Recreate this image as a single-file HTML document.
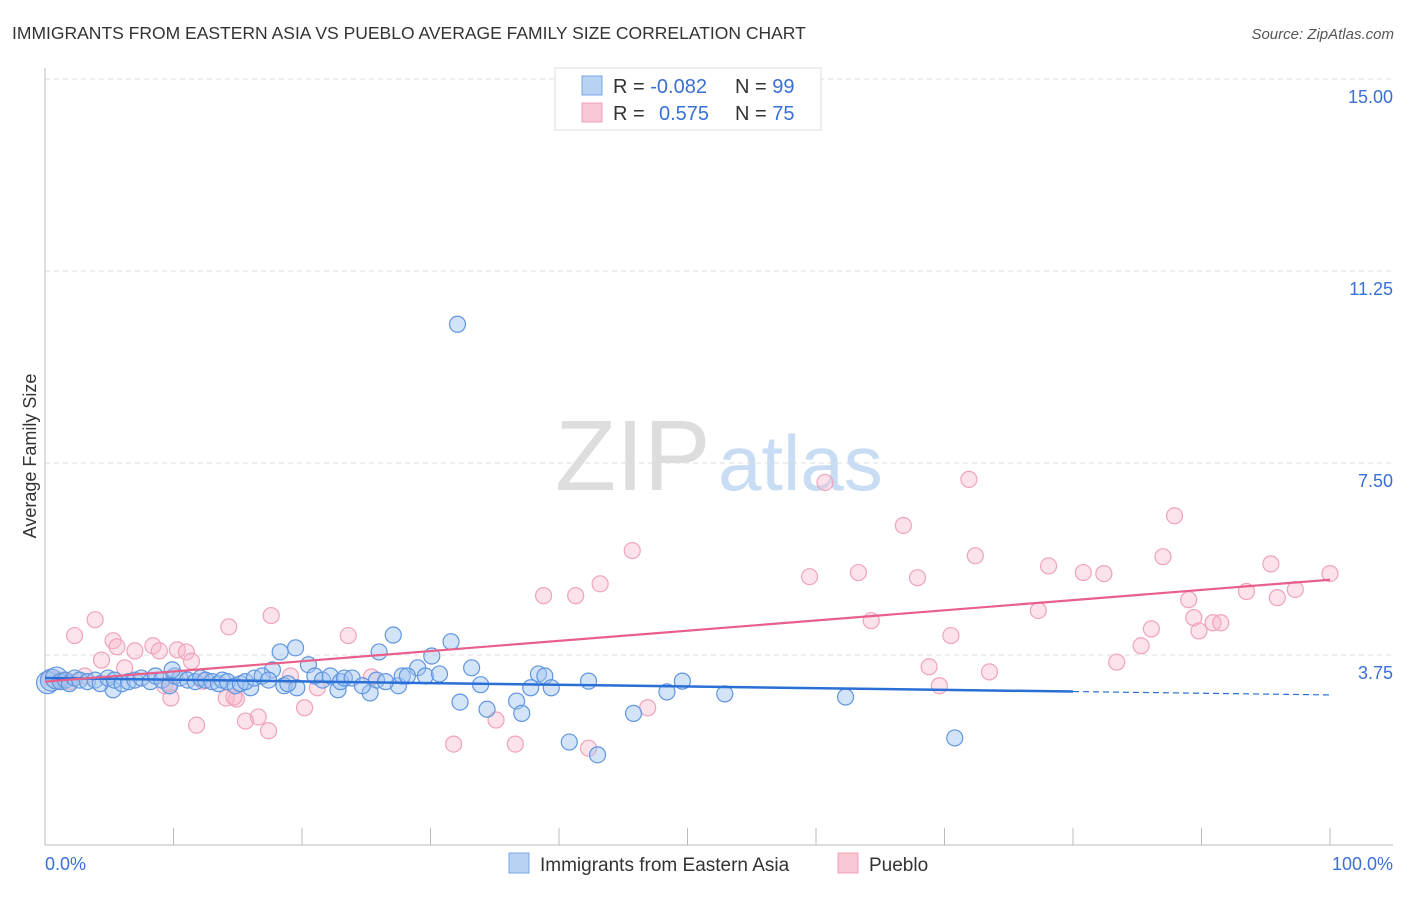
<!DOCTYPE html>
<html><head><meta charset="utf-8"><style>
body{margin:0;background:#fff;font-family:"Liberation Sans",sans-serif}
svg text{font-family:"Liberation Sans",sans-serif}
</style></head><body>
<svg id="c" width="1406" height="892" xmlns="http://www.w3.org/2000/svg">
<text x="12" y="39" font-size="17.5" fill="#333">IMMIGRANTS FROM EASTERN ASIA VS PUEBLO AVERAGE FAMILY SIZE CORRELATION CHART</text>
<text x="1394" y="39" font-size="15" fill="#555" font-style="italic" text-anchor="end">Source: ZipAtlas.com</text>
<text x="555" y="490" font-size="100" fill="#ddd" font-family="Liberation Serif">ZIP</text>
<text x="718" y="490" font-size="78" fill="#c8dcf4">atlas</text>
<text x="36" y="456" font-size="18" fill="#333" text-anchor="middle" transform="rotate(-90 36 456)">Average Family Size</text>
<g id="grid"></g><g id="axes"></g><g id="pts"></g><g id="trend"></g>
<g>
<rect x="555" y="68" width="266" height="62" fill="#fff" stroke="#ddd"/>
<rect x="582" y="76" width="20" height="19" fill="#b8d2f4" stroke="#7aa6e6"/>
<rect x="582" y="103" width="20" height="19" fill="#f9c6d4" stroke="#f0a0b8"/>
<text x="613" y="93" font-size="20" fill="#333">R = <tspan fill="#3a6fd6">-0.082</tspan></text>
<text x="735" y="93" font-size="20" fill="#333">N = <tspan fill="#3a6fd6">99</tspan></text>
<text x="613" y="120" font-size="20" fill="#333">R = </text>
<text x="659" y="120" font-size="20" fill="#3a6fd6">0.575</text>
<text x="735" y="120" font-size="20" fill="#333">N = <tspan fill="#3a6fd6">75</tspan></text>
</g>
<g>
<rect x="509" y="853" width="20" height="20" fill="#b8d2f4" stroke="#7aa6e6"/>
<text x="540" y="871" font-size="19" fill="#333">Immigrants from Eastern Asia</text>
<rect x="838" y="853" width="20" height="20" fill="#f9c6d4" stroke="#f0a0b8"/>
<text x="869" y="871" font-size="19" fill="#333">Pueblo</text>
</g>
<text x="45" y="870" font-size="18" fill="#3a6fd6">0.0%</text>
<text x="1393" y="870" font-size="18" fill="#3a6fd6" text-anchor="end">100.0%</text>
</svg>
<script>
const yTicks=[3.75,7.5,11.25,15];
const yTickLabels=["3.75","7.50","11.25","15.00"];
const blueX=[32.1,19.5,27.1,31.6,26.0,30.1,18.3,20.5,17.7,29.0,33.2,38.4,38.9,42.3,49.6,33.9,37.8,39.4,48.4,52.9,62.3,32.3,36.7,34.4,37.1,45.8,40.8,43.0,70.8,5.3,16.0,22.8,25.3,27.5,18.6,19.6,
0.2,0.5,0.9,1.2,1.6,1.9,2.3,2.7,3.3,3.9,4.3,4.9,5.4,6.0,6.5,7.0,7.5,8.2,8.6,9.1,9.7,10.1,10.5,11.1,11.7,12.1,12.5,13.0,13.5,13.8,14.2,14.8,15.2,15.6,16.3,16.9,17.4,18.9,21.0,21.6,22.2,23.0,23.3,23.9,24.7,25.8,26.5,27.8,28.2,29.6,30.7,9.9];
const blueY=[10.21,3.89,4.14,4.01,3.81,3.73,3.81,3.56,3.46,3.50,3.50,3.38,3.34,3.24,3.24,3.17,3.11,3.11,3.03,2.99,2.93,2.83,2.85,2.69,2.61,2.61,2.05,1.80,2.13,3.07,3.11,3.07,3.01,3.15,3.15,3.11,
3.21,3.26,3.30,3.23,3.26,3.19,3.30,3.26,3.23,3.26,3.19,3.30,3.26,3.19,3.23,3.26,3.30,3.23,3.34,3.26,3.15,3.34,3.30,3.26,3.23,3.30,3.26,3.23,3.19,3.26,3.23,3.15,3.19,3.23,3.30,3.34,3.26,3.19,3.34,3.26,3.34,3.23,3.30,3.30,3.15,3.26,3.23,3.34,3.34,3.34,3.38,3.46];
const pinkX=[60.7,71.9,87.9,66.8,45.7,72.4,87.0,95.4,100,78.1,80.8,82.4,63.3,59.5,67.9,43.2,38.8,41.3,89.0,93.5,95.9,97.3,17.6,77.3,89.4,64.3,90.9,91.5,86.1,89.8,14.3,3.9,2.3,23.6,70.5,5.3,5.6,8.4,7.0,8.9,10.3,11.0,85.3,4.4,11.4,6.2,83.4,68.8,73.5,3.1,9.7,9.3,12.3,25.4,21.2,69.6,9.8,14.9,14.1,14.7,20.2,46.9,16.6,15.6,11.8,17.4,35.1,31.8,36.6,42.3,1.2,1.9,0.4,19.1];
const pinkY=[7.12,7.18,6.47,6.28,5.79,5.69,5.67,5.53,5.34,5.49,5.36,5.34,5.36,5.28,5.26,5.14,4.91,4.91,4.83,4.99,4.87,5.03,4.52,4.62,4.48,4.42,4.38,4.38,4.26,4.22,4.30,4.44,4.13,4.13,4.13,4.03,3.91,3.93,3.83,3.83,3.85,3.81,3.93,3.65,3.63,3.50,3.61,3.52,3.42,3.34,3.19,3.15,3.24,3.32,3.11,3.15,2.91,2.89,2.91,2.93,2.72,2.72,2.54,2.46,2.38,2.27,2.48,2.01,2.01,1.93,3.26,3.23,3.30,3.34];
const blueTrend=[3.30,2.97]; // value at 0% and 100%
const pinkTrend=[3.23,5.22];
const NS="http://www.w3.org/2000/svg";
const X=p=>45+12.85*p, Y=v=>847-51.2*v;
function mk(t,a,parent){const e=document.createElementNS(NS,t);for(const k in a)e.setAttribute(k,a[k]);document.getElementById(parent).appendChild(e);return e;}
yTicks.forEach((v,i)=>{
 const l=mk('line',{x1:45,x2:1393,y1:Y(v),y2:Y(v),stroke:'#ddd','stroke-dasharray':'5,4'},'grid');
 
 
 const t=mk('text',{x:1393,y:Y(v)+24,'font-size':18,fill:'#3a6fd6','text-anchor':'end'},'grid');
 t.textContent=yTickLabels[i];
 
 
});
const ax=mk('line',{x1:45,x2:45,y1:68,y2:845,stroke:'#bbb'},'axes');


const bx=mk('line',{x1:45,x2:1393,y1:845,y2:845,stroke:'#bbb'},'axes');


for(let i=0;i<=10;i++){const tk=mk('line',{x1:X(i*10),x2:X(i*10),y1:828,y2:845,stroke:'#bbb'},'axes');
 
 }
pinkX.forEach((p,i)=>{const c=mk('circle',{cx:X(p),cy:Y(pinkY[i]),r:8,fill:'rgba(248,182,202,0.4)',stroke:'#f0a3ba','stroke-width':1.2},'pts');
 
 });
blueX.forEach((p,i)=>{const c=mk('circle',{cx:X(p),cy:Y(blueY[i]),r:(p<1?11:8),fill:'rgba(160,196,240,0.45)',stroke:'#5f95e0','stroke-width':1.2},'pts');
 
 });
const bAt=p=>blueTrend[0]+(blueTrend[1]-blueTrend[0])*p/100;
const t1=mk('line',{x1:X(0),y1:Y(bAt(0)),x2:X(80),y2:Y(bAt(80)),stroke:'#2a6fd6','stroke-width':2.5},'trend');


const t2=mk('line',{x1:X(80),y1:Y(bAt(80)),x2:X(100),y2:Y(bAt(100)),stroke:'#2a6fd6','stroke-width':1.2,'stroke-dasharray':'6,4'},'trend');


const t3=mk('line',{x1:X(0),y1:Y(pinkTrend[0]),x2:X(100),y2:Y(pinkTrend[1]),stroke:'#e8608a','stroke-width':2.2},'trend');


</script>
</body></html>
